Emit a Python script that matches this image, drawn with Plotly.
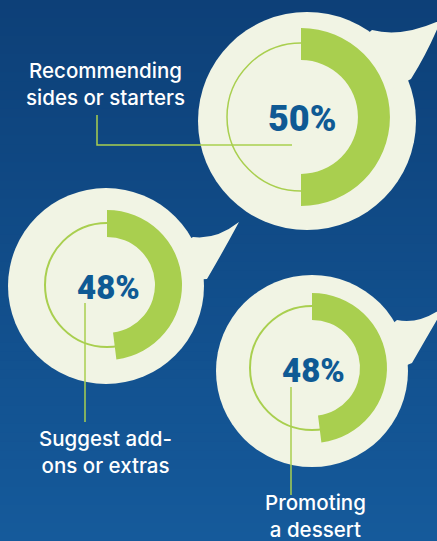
import plotly.graph_objects as go

W, H = 437, 541

# Survey results: share of respondents per upsell tactic
tactics = ["Recommending<br>sides or starters", "Suggest add-<br>ons or extras", "Promoting<br>a dessert"]
shares = [50, 48, 48]
pct_labels = ["50%", "48%", "48%"]

# Layout geometry (pixel coordinates, y down)
bubble_cx = [307, 106, 312]
bubble_cy = [121, 286, 371]
bubble_r = [109, 98, 96]
ring_cx = [301, 107, 312]
ring_cy = [117, 285, 368]
ring_r = [89, 75, 75]
guide_r = [74, 62, 62]
guide_w = [1.5, 2, 2]
tails = [
    "M 360,40 L 372,30 Q 402,38 441,20 Q 428,52 411,79 L 390,90 Z",
    "M 180,245 L 193,237 Q 216,240 239,222 Q 224,250 207,279 L 190,280 Z",
    "M 385,330 L 397,320 Q 420,325 445,306 Q 428,335 412,363 L 395,370 Z",
]
connectors = [
    "M 97,115 L 97,145 L 292,145",
    "M 85,303 L 85,422",
    "M 291,387 L 291,495",
]
label_xy = [(105, 84), (105, 452), (315, 516)]
pct_size = [36, 33, 33]

CREAM = "#f1f4e4"
GREEN = "#a9cf4f"
BLUE = "#0f5a94"

shapes = []

# Vertical gradient background made of thin bands
top_rgb = (13, 64, 120)
bot_rgb = (21, 90, 155)
n_bands = 60
band_h = H / n_bands
for i in range(n_bands):
    t = i / (n_bands - 1)
    c = tuple(round(a + (b - a) * t) for a, b in zip(top_rgb, bot_rgb))
    shapes.append(dict(type="rect", xref="x", yref="y", x0=0, x1=W,
                       y0=i * band_h, y1=(i + 1) * band_h + 0.5,
                       fillcolor="rgb(%d,%d,%d)" % c, line=dict(width=0),
                       layer="below"))

# Speech bubbles
for i in range(3):
    cx, cy, r = bubble_cx[i], bubble_cy[i], bubble_r[i]
    shapes.append(dict(type="circle", xref="x", yref="y",
                       x0=cx - r, x1=cx + r, y0=cy - r, y1=cy + r,
                       fillcolor=CREAM, line=dict(width=0), layer="below"))
    shapes.append(dict(type="path", xref="x", yref="y", path=tails[i],
                       fillcolor=CREAM, line=dict(width=0), layer="below"))
    gx, gy, gr = ring_cx[i], ring_cy[i], guide_r[i]
    shapes.append(dict(type="circle", xref="x", yref="y",
                       x0=gx - gr, x1=gx + gr, y0=gy - gr, y1=gy + gr,
                       line=dict(color=GREEN, width=guide_w[i]), layer="below"))

# Leader lines from the rings to their captions
for p in connectors:
    shapes.append(dict(type="path", xref="x", yref="y", path=p,
                       line=dict(color=GREEN, width=1.5), layer="above"))

fig = go.Figure()

# Donut arcs: share drawn clockwise from 12 o'clock, remainder transparent
for i in range(3):
    cx, cy, r = ring_cx[i], ring_cy[i], ring_r[i]
    fig.add_trace(go.Pie(
        values=[shares[i], 100 - shares[i]],
        marker=dict(colors=[GREEN, "rgba(0,0,0,0)"], line=dict(width=0)),
        hole=0.64, sort=False, direction="clockwise", rotation=0,
        textinfo="none", hoverinfo="skip", showlegend=False,
        domain=dict(x=[(cx - r) / W, (cx + r) / W],
                    y=[1 - (cy + r) / H, 1 - (cy - r) / H]),
    ))

annotations = []
for i in range(3):
    annotations.append(dict(
        x=ring_cx[i] + 1, y=ring_cy[i] + 2, xref="x", yref="y",
        text=pct_labels[i], showarrow=False,
        xanchor="center", yanchor="middle",
        font=dict(family="Roboto", weight=900, size=pct_size[i], color=BLUE)))
    lx, ly = label_xy[i]
    annotations.append(dict(
        x=lx, y=ly, xref="x", yref="y", text=tactics[i], showarrow=False,
        xanchor="center", yanchor="middle", align="center",
        font=dict(family="Inter, Roboto, sans-serif", weight=500, size=20.5,
                  color="white")))

fig.update_layout(
    width=W, height=H, autosize=False,
    margin=dict(l=0, r=0, t=0, b=0, pad=0),
    paper_bgcolor="rgb(17,78,138)", plot_bgcolor="rgba(0,0,0,0)",
    xaxis=dict(range=[0, W], visible=False, fixedrange=True),
    yaxis=dict(range=[H, 0], visible=False, fixedrange=True),
    shapes=shapes, annotations=annotations, showlegend=False,
)

fig.write_html("out.html", config=dict(displayModeBar=False))
